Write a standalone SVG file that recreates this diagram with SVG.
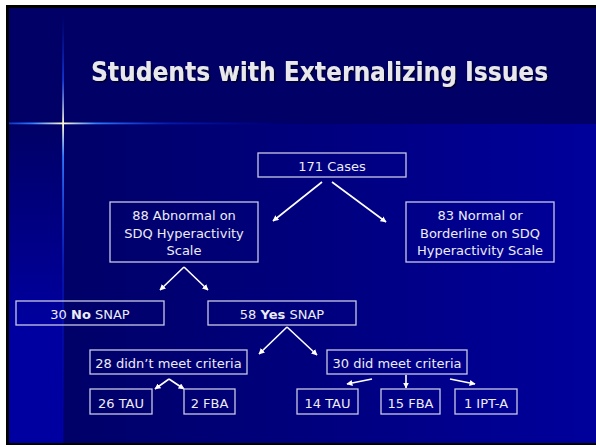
<svg xmlns="http://www.w3.org/2000/svg" width="596" height="447" viewBox="0 0 596 447">
<defs>
<linearGradient id="gLow" x1="63" y1="0" x2="596" y2="0" gradientUnits="userSpaceOnUse">
<stop offset="0" stop-color="#000068"/>
<stop offset="0.5" stop-color="#00007f"/>
<stop offset="1" stop-color="#00009c"/>
</linearGradient>
<linearGradient id="gLeft" x1="0" y1="124" x2="0" y2="330" gradientUnits="userSpaceOnUse">
<stop offset="0" stop-color="#000066"/>
<stop offset="1" stop-color="#0000a0"/>
</linearGradient>
<linearGradient id="gStarH" x1="9" y1="0" x2="300" y2="0" gradientUnits="userSpaceOnUse">
<stop offset="0" stop-color="#1a5cff" stop-opacity="0.6"/>
<stop offset="0.08" stop-color="#2f7bff"/>
<stop offset="0.186" stop-color="#fffbd0"/>
<stop offset="0.3" stop-color="#2f7bff"/>
<stop offset="0.55" stop-color="#0a2adf" stop-opacity="0.6"/>
<stop offset="1" stop-color="#0000c0" stop-opacity="0"/>
</linearGradient>
<linearGradient id="gStarV" x1="0" y1="15" x2="0" y2="443" gradientUnits="userSpaceOnUse">
<stop offset="0" stop-color="#0a2adf" stop-opacity="0"/>
<stop offset="0.15" stop-color="#1a4cff" stop-opacity="0.7"/>
<stop offset="0.255" stop-color="#fffbd0"/>
<stop offset="0.33" stop-color="#2f7bff"/>
<stop offset="0.6" stop-color="#0a2adf" stop-opacity="0.5"/>
<stop offset="1" stop-color="#0000c0" stop-opacity="0.2"/>
</linearGradient>
<filter id="shadow" x="-5%" y="-20%" width="110%" height="150%">
<feDropShadow dx="1.5" dy="1.5" stdDeviation="0.6" flood-color="#000020" flood-opacity="0.9"/>
</filter>
<marker id="ah" viewBox="0 0 10 10" refX="9" refY="5" markerWidth="6" markerHeight="6" markerUnits="userSpaceOnUse" orient="auto">
<path d="M0,0 L10,5 L0,10 z" fill="#ffffff"/>
</marker>
</defs>
<style>
.box{fill:none;stroke:#c8c8e6;stroke-width:1.3}
.t{font-family:"DejaVu Sans","Verdana",sans-serif;font-size:13px;fill:#ececf6;text-anchor:middle}
.title{font-family:"DejaVu Sans Condensed","DejaVu Sans",sans-serif;font-stretch:condensed;font-weight:bold;font-size:26px;fill:#e8e8ec}
.c{fill:none;stroke:#ffffff;stroke-width:1.6;marker-end:url(#ah)}
.cl{fill:none;stroke:#ffffff;stroke-width:1.6}
</style>
<rect x="0" y="0" width="596" height="447" fill="#ffffff"/>
<rect x="6" y="5" width="590" height="440" fill="#000000"/>
<rect x="9" y="8" width="587" height="435" fill="#000066"/>
<rect x="63" y="124" width="533" height="319" fill="url(#gLow)"/>
<rect x="9" y="124" width="54" height="319" fill="url(#gLeft)"/>
<rect x="9" y="122.5" width="300" height="1.8" fill="url(#gStarH)"/>
<rect x="62.2" y="15" width="1.8" height="428" fill="url(#gStarV)"/>
<text class="title" x="91" y="81" filter="url(#shadow)">Students with Externalizing Issues</text>
<g id="connectors">
<line class="c" x1="322" y1="182" x2="273" y2="221"/>
<line class="c" x1="332" y1="182" x2="386" y2="222"/>
<line class="c" x1="184" y1="267" x2="160" y2="290"/>
<line class="c" x1="184" y1="267" x2="208" y2="290"/>
<line class="c" x1="287" y1="327" x2="259" y2="354"/>
<line class="c" x1="287" y1="327" x2="317" y2="355"/>
<line class="c" x1="169" y1="379" x2="155" y2="389"/>
<line class="c" x1="169" y1="379" x2="184" y2="389"/>
<line class="c" x1="372" y1="379" x2="347" y2="384"/>
<line class="c" x1="406" y1="375" x2="406" y2="388"/>
<line class="c" x1="450" y1="379" x2="475" y2="384"/>
</g>
<g id="n171"><rect class="box" x="258" y="153" width="148" height="24"/><text class="t" x="332" y="171">171 Cases</text></g>
<g id="n88"><rect class="box" x="110" y="202" width="148" height="60"/><text class="t" x="184" y="220">88 Abnormal on</text><text class="t" x="184" y="237.5">SDQ Hyperactivity</text><text class="t" x="184" y="255">Scale</text></g>
<g id="n83"><rect class="box" x="406" y="202" width="148" height="60"/><text class="t" x="480" y="220">83 Normal or</text><text class="t" x="480" y="237.5">Borderline on SDQ</text><text class="t" x="480" y="255">Hyperactivity Scale</text></g>
<g id="nNo"><rect class="box" x="16" y="301" width="148" height="24"/><text class="t" x="90" y="318.5">30 <tspan font-weight="bold">No</tspan> SNAP</text></g>
<g id="nYes"><rect class="box" x="208" y="301" width="148" height="24"/><text class="t" x="282" y="318.5">58 <tspan font-weight="bold">Yes</tspan> SNAP</text></g>
<g id="n28"><rect class="box" x="90" y="350" width="157" height="24"/><text class="t" x="168.5" y="368">28 didn’t meet criteria</text></g>
<g id="n30"><rect class="box" x="327" y="350" width="140" height="24"/><text class="t" x="397" y="368">30 did meet criteria</text></g>
<g id="n26"><rect class="box" x="90" y="389" width="62" height="25"/><text class="t" x="121" y="407.5">26 TAU</text></g>
<g id="n2"><rect class="box" x="184" y="389" width="51" height="25"/><text class="t" x="209.5" y="407.5">2 FBA</text></g>
<g id="n14"><rect class="box" x="297" y="389" width="61" height="25"/><text class="t" x="327.5" y="407.5">14 TAU</text></g>
<g id="n15"><rect class="box" x="381" y="389" width="59" height="25"/><text class="t" x="410.5" y="407.5">15 FBA</text></g>
<g id="n1"><rect class="box" x="455" y="389" width="62" height="25"/><text class="t" x="486" y="407.5">1 IPT-A</text></g>
</svg>
